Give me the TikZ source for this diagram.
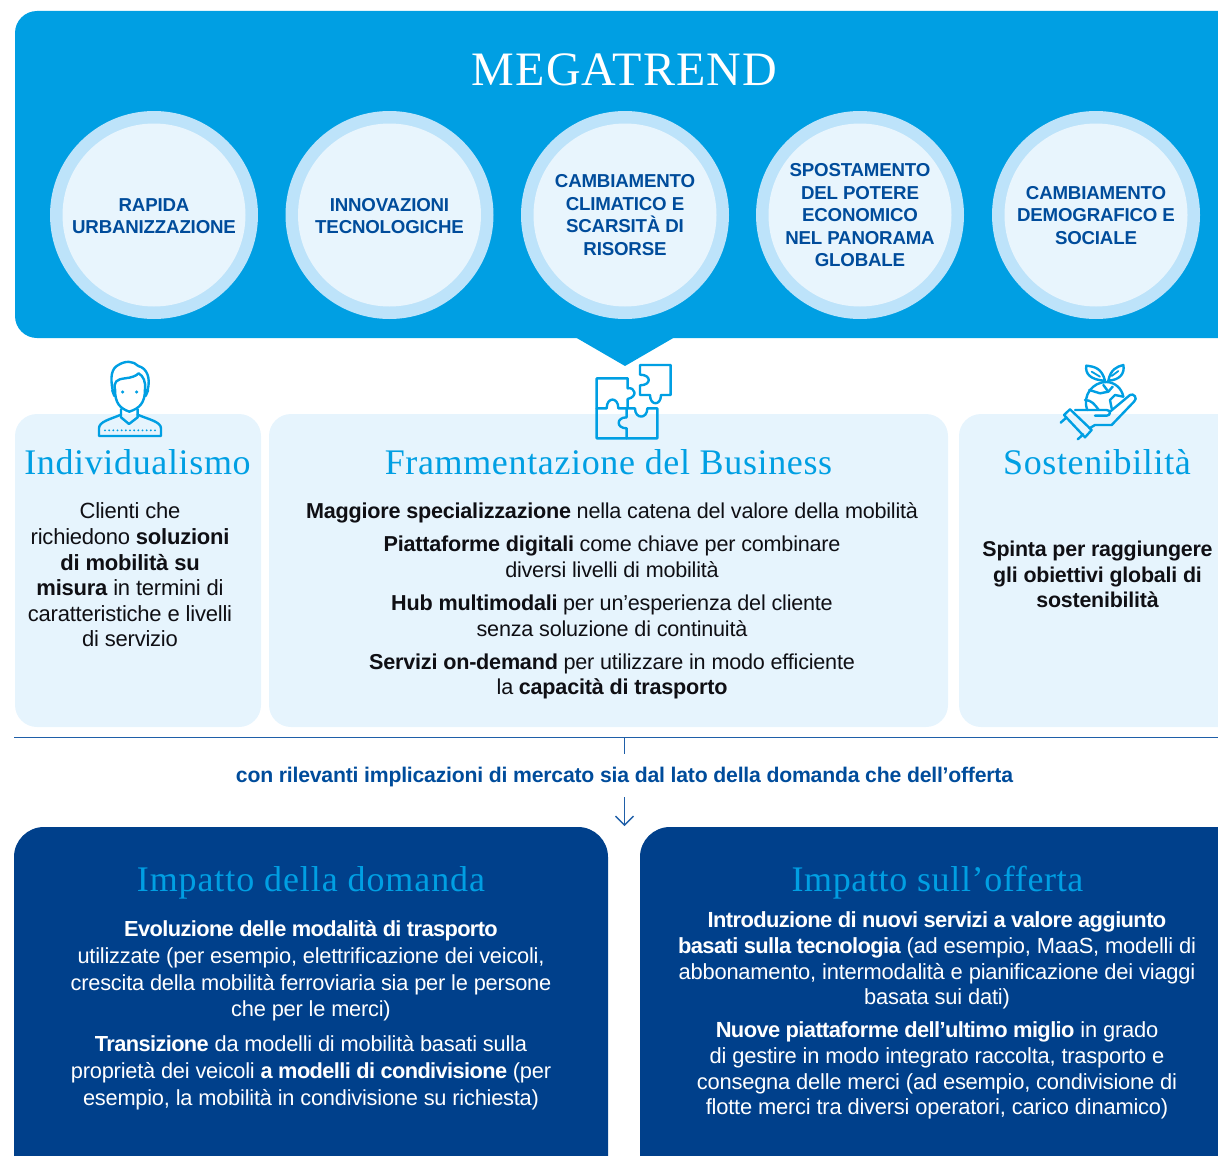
\documentclass[tikz,border=0pt]{standalone}
\usepackage{fontspec}
\setmainfont{Liberation Sans}[LetterSpace=-1.0]
\newfontfamily\titlefont{Liberation Serif}[LetterSpace=2.5]
\newfontfamily\headfont{Liberation Serif}[LetterSpace=1.8]
\newfontface\whitebold{Liberation Sans Bold}[LetterSpace=-2.8]
\newcommand{\wb}[1]{{\whitebold #1}}
\usetikzlibrary{arrows.meta}
\definecolor{cyanmain}{HTML}{009FE3}
\definecolor{ringc}{HTML}{BDE3FA}
\definecolor{discc}{HTML}{E8F5FD}
\definecolor{panelc}{HTML}{E6F4FD}
\definecolor{navyc}{HTML}{00408B}
\definecolor{inkc}{HTML}{0F0F14}
\definecolor{ruleC}{HTML}{1F5FA8}
\definecolor{circtext}{HTML}{004C9B}
\tikzset{
 x=1pt,y=-1pt,
 ring/.style={circle,fill=ringc,minimum size=208pt,inner sep=0pt},
 disc/.style={circle,fill=discc,minimum size=183pt,inner sep=0pt},
 circlabel/.style={align=center,text=circtext,inner sep=0pt,font=\fontsize{18.7}{22.5}\selectfont\bfseries},
 paneltitle/.style={text=cyanmain,inner sep=0pt,font=\headfont\fontsize{36}{40}\selectfont},
 bodytext/.style={align=center,text=inkc,inner sep=0pt,font=\fontsize{21.6}{25.6}\selectfont},
 whitetext/.style={align=center,text=white,inner sep=0pt,font=\fontsize{21.8}{26.8}\selectfont},
 lightpanel/.style={fill=panelc,rounded corners=22pt},
 darkpanel/.style={fill=navyc,rounded corners=30pt},
 iconline/.style={draw=cyanmain,line width=2.4pt,line join=round,line cap=round},
 iconthin/.style={draw=cyanmain,line width=1.8pt,line join=round,line cap=round},
 rulec/.style={draw=ruleC,line width=1.4pt},
}
\begin{document}
\begin{tikzpicture}
\useasboundingbox (0,0) rectangle (1218,1156);
\clip (0,0) rectangle (1218,1156);
% top band
\fill[cyanmain,rounded corners=22pt] (15,11) rectangle (1290,338);
\fill[cyanmain] (575,337) -- (625,366) -- (675,337) -- cycle;
\node[text=white,inner sep=0pt,font=\titlefont\fontsize{48}{52}\selectfont] (title) at (624.5,69.5) {MEGATREND};
% circles
\node[ring] (r1) at (154,215) {}; \node[disc] (d1) at (154,215) {};
\node[ring] (r2) at (389.5,215) {}; \node[disc] (d2) at (389.5,215) {};
\node[ring] (r3) at (625,215) {}; \node[disc] (d3) at (625,215) {};
\node[ring] (r4) at (860,215) {}; \node[disc] (d4) at (860,215) {};
\node[ring] (r5) at (1096,215) {}; \node[disc] (d5) at (1096,215) {};
\node[circlabel] (t1) at (154,216) {RAPIDA\\URBANIZZAZIONE};
\node[circlabel] (t2) at (389.5,216) {INNOVAZIONI\\TECNOLOGICHE};
\node[circlabel] (t3) at (625,215) {CAMBIAMENTO\\CLIMATICO E\\SCARSITÀ DI\\RISORSE};
\node[circlabel] (t4) at (860,215.5) {SPOSTAMENTO\\DEL POTERE\\ECONOMICO\\NEL PANORAMA\\GLOBALE};
\node[circlabel] (t5) at (1096,215.5) {CAMBIAMENTO\\DEMOGRAFICO E\\SOCIALE};
% light panels
\fill[lightpanel] (15,414) rectangle (261,727);
\fill[lightpanel] (269,414) rectangle (948,727);
\fill[lightpanel] (959,414) rectangle (1290,727);
\node[paneltitle] (pt1) at (137.5,462) {Individualismo};
\node[paneltitle] (pt2) at (608.5,462) {Frammentazione del Business};
\node[paneltitle] (pt3) at (1097,462) {Sostenibilità};
\node[bodytext,font=\fontsize{22}{25.6}\selectfont] (b1) at (130,575) {Clienti che\\richiedono \textbf{soluzioni}\\\textbf{di mobilità su}\\\textbf{misura} in termini di\\caratteristiche e livelli\\di servizio};
\node[bodytext] (b2a) at (612,513) {\textbf{Maggiore specializzazione} nella catena del valore della mobilità};
\node[bodytext] (b2b) at (612,557) {\textbf{Piattaforme digitali} come chiave per combinare\\diversi livelli di mobilità};
\node[bodytext] (b2c) at (612,615.5) {\textbf{Hub multimodali} per un’esperienza del cliente\\senza soluzione di continuità};
\node[bodytext] (b2d) at (612,676.5) {\textbf{Servizi on-demand} per utilizzare in modo efficiente\\la \textbf{capacità di trasporto}};
\node[bodytext,font=\fontsize{21.4}{25.6}\selectfont\bfseries] (b3) at (1097.5,574.5) {Spinta per raggiungere\\gli obiettivi globali di\\sostenibilità};
% rule and connector
\coordinate (ruleL) at (14,737.5);
\coordinate (ruleR) at (1218,737.5);
\coordinate (ruleM) at (624.5,737.5);
\coordinate (stem) at (624.5,754);
\coordinate (arrS) at (624.5,797);
\coordinate (arrE) at (624.5,826);
\draw[rulec] (ruleL) -- (ruleR);
\draw[rulec] (ruleM) -- (stem);
\draw[rulec,-{Straight Barb[length=9pt,width=18pt,line width=1.4pt]}] (arrS) -- (arrE);
\node[text=circtext,inner sep=0pt,font=\fontsize{21.2}{24}\selectfont\bfseries] (impl) at (624.5,777) {con rilevanti implicazioni di mercato sia dal lato della domanda che dell’offerta};
% dark panels
\fill[darkpanel] (14,827) rectangle (608,1220);
\fill[darkpanel] (640,827) rectangle (1290,1220);
\node[paneltitle,font=\titlefont\fontsize{36}{40}\selectfont] (dt1) at (311,883) {Impatto della domanda};
\node[paneltitle] (dt2) at (937.5,883) {Impatto sull’offerta};
\node[whitetext] (w1a) at (311,971) {\wb{Evoluzione delle modalità di trasporto}\\utilizzate (per esempio, elettrificazione dei veicoli,\\crescita della mobilità ferroviaria sia per le persone\\che per le merci)};
\node[whitetext] (w1b) at (311,1072.5) {\wb{Transizione} da modelli di mobilità basati sulla\\proprietà dei veicoli \wb{a modelli di condivisione} (per\\esempio, la mobilità in condivisione su richiesta)};
\node[whitetext,font=\fontsize{21.9}{25.8}\selectfont] (w2a) at (937,960.5) {\wb{Introduzione di nuovi servizi a valore aggiunto}\\\wb{basati sulla tecnologia} (ad esempio, MaaS, modelli di\\abbonamento, intermodalità e pianificazione dei viaggi\\basata sui dati)};
\node[whitetext,font=\fontsize{21.9}{25.8}\selectfont] (w2b) at (937,1070.5) {\wb{Nuove piattaforme dell’ultimo miglio} in grado\\di gestire in modo integrato raccolta, trasporto e\\consegna delle merci (ad esempio, condivisione di\\flotte merci tra diversi operatori, carico dinamico)};
% person icon
\begin{scope}[shift={(60,340)},x=0.3333pt,y=-0.3333pt]
 \path[iconline] (158,150) .. controls (150,110) and (155,85) .. (175,75) .. controls (195,62) and (220,62) .. (235,78) .. controls (262,85) and (272,115) .. (263,150);
 \path[iconline] (165,150) .. controls (160,125) and (170,118) .. (195,115) .. controls (215,113) and (228,108) .. (236,100) .. controls (250,108) and (258,125) .. (255,150);
 \path[iconline] (165,148) .. controls (165,190) and (180,205) .. (208,215) .. controls (238,205) and (255,190) .. (255,148);
 \path[iconline] (165,150) -- (157,152) -- (163,168);
 \path[iconline] (255,150) -- (264,152) -- (257,168);
 \fill[cyanmain] (188,156) circle (5); \fill[cyanmain] (230,156) circle (5);
 \path[iconline] (183,208) -- (183,232) -- (207,252) -- (233,232) -- (233,208);
 \path[iconline] (183,224) .. controls (150,238) and (117,245) .. (117,265) -- (117,288) -- (303,288) -- (303,265) .. controls (303,245) and (265,238) .. (233,224);
 \foreach \k in {0,...,12}{\fill[cyanmain] (135+\k*12.5,271) circle (3.2);}
\end{scope}
% puzzle icon
\begin{scope}[shift={(560,330)},x=0.3333pt,y=-0.3333pt]
 \path[iconline] (110,145) -- (203,145) -- (203,175) .. controls (225,170) and (235,200) .. (203,207) -- (203,235) -- (225,235) .. controls (225,268) and (262,268) .. (262,235) -- (292,235) -- (292,325) -- (110,325) -- cycle;
 \path[iconline] (110,235) -- (140,235) .. controls (140,200) and (175,200) .. (175,235) -- (203,235);
 \path[iconline] (200,235) -- (200,262) .. controls (168,262) and (168,295) .. (200,295) -- (200,325);
 \path[iconline] (240,105) -- (332,105) -- (332,195) -- (303,195) .. controls (303,228) and (270,228) .. (270,195) -- (240,195) -- (240,166) .. controls (275,166) and (275,134) .. (240,134) -- cycle;
\end{scope}
% hand icon
\begin{scope}[shift={(1040,350)},x=0.3333pt,y=-0.3333pt]
 \path[iconline] (195,92) .. controls (185,55) and (165,50) .. (139,47) .. controls (135,70) and (150,90) .. (195,92);
 \path[iconthin] (155,65) -- (180,80);
 \path[iconline] (205,92) .. controls (212,58) and (230,50) .. (250,45) .. controls (255,70) and (240,90) .. (205,92);
 \path[iconthin] (235,63) -- (215,78);
 \path[iconline] (142,180) .. controls (125,135) and (160,95) .. (200,96) .. controls (225,97) and (245,115) .. (250,140);
 \path[iconline] (148,120) -- (180,130) -- (205,125) -- (190,105);
 \path[iconline] (205,125) -- (218,110);
 \path[iconline] (135,150) .. controls (155,150) and (165,165) .. (175,178);
 \path[iconline] (250,140) -- (225,135) -- (210,150) -- (215,175);
 \path[iconline] (72,195) -- (90,178) -- (155,240) -- (135,262) -- cycle;
 \path[iconline] (62,218) -- (79,203);
 \path[iconline] (113,268) -- (130,253);
 \path[iconline] (105,180) -- (200,180) .. controls (213,180) and (213,197) .. (200,197) -- (165,197);
 \path[iconline] (210,185) -- (270,135) .. controls (280,128) and (295,145) .. (282,155) -- (215,225) -- (165,225) -- (148,235);
\end{scope}
\end{tikzpicture}
\end{document}
